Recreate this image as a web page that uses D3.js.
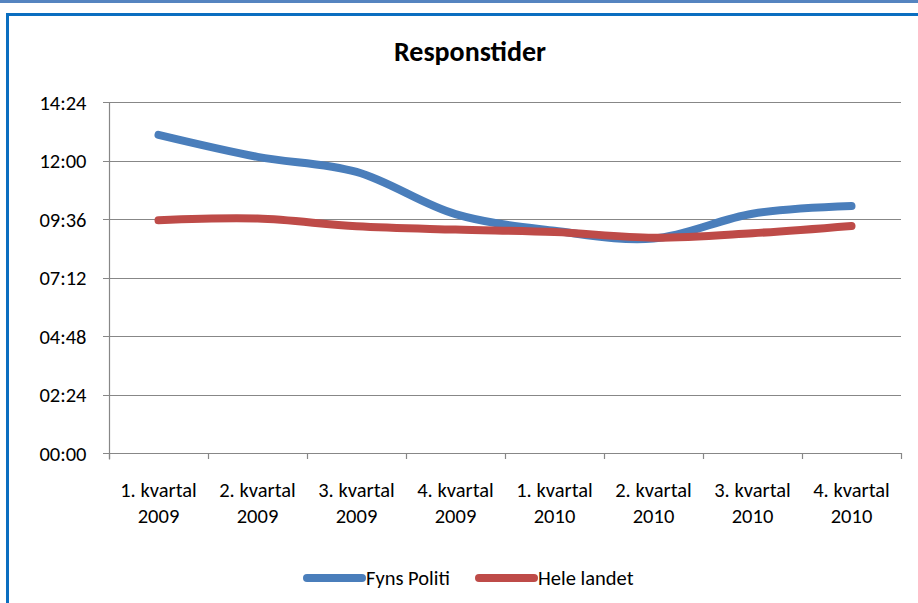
<!DOCTYPE html>
<html>
<head>
<meta charset="utf-8">
<script src="https://cdn.jsdelivr.net/npm/d3@7"></script>
<style>
  html, body { margin: 0; padding: 0; background: #fff; }
  svg { display: block; }
  text { font-family: Carlito, Lato, "Open Sans", sans-serif; fill: #000; }
</style>
</head>
<body>
<svg id="chart" width="918" height="603"></svg>
<script>
// quarters on the x axis (two text lines each)
const quarters = ['1. kvartal', '2. kvartal', '3. kvartal', '4. kvartal', '1. kvartal', '2. kvartal', '3. kvartal', '4. kvartal'];
const years = ['2009', '2009', '2009', '2009', '2010', '2010', '2010', '2010'];

// response times in seconds (mm:ss)
const fynsPoliti = [783, 729, 692, 588, 547, 528, 589, 608];
const heleLandet = [573, 577, 558, 550, 544, 530, 541, 559];

const yTicks = [0, 144, 288, 432, 576, 720, 864];
const seriesNames = ['Fyns Politi', 'Hele landet'];
const colors = ['#4a7ebb', '#be4b48'];

const svg = d3.select('#chart');
const fmt = (s) => d3.format('02')(Math.floor(s / 60)) + ':' + d3.format('02')(s % 60);
const fs = 20.5;

// frame
svg.append('rect').attr('x', 0).attr('y', 0).attr('width', 918).attr('height', 3).attr('fill', '#5584c0');
svg.append('rect')
    .attr('x', 7.5).attr('y', 14.5).attr('width', 940).attr('height', 620)
    .attr('fill', 'none').attr('stroke', '#0a6ec0').attr('stroke-width', 3);

svg.append('text')
    .attr('x', 470).attr('y', 61)
    .attr('text-anchor', 'middle')
    .attr('font-size', 28).attr('font-weight', 'bold')
    .text('Responstider');

const x = d3.scaleBand().domain(d3.range(quarters.length)).range([109, 901]);
const y = d3.scaleLinear().domain([0, 864]).range([453, 102]);

// gridlines
svg.append('g')
    .selectAll('line')
    .data(yTicks)
    .join('line')
    .attr('x1', 103).attr('x2', 901)
    .attr('y1', (d) => Math.round(y(d)) + 0.5).attr('y2', (d) => Math.round(y(d)) + 0.5)
    .attr('stroke', '#878787').attr('stroke-width', 1.2);

// y axis
const yAxis = svg.append('g')
    .attr('transform', 'translate(109.5,0.5)')
    .call(d3.axisLeft(y).tickValues(yTicks).tickFormat(fmt).tickSize(0).tickPadding(23));
yAxis.select('.domain').attr('stroke', '#878787').attr('stroke-width', 1.2).attr('d', 'M0,' + (y(864) - 0.5) + 'V' + (y(0) + 6));
yAxis.selectAll('text').attr('font-size', fs).attr('font-family', null);

// x axis tick marks at category boundaries
const bounds = d3.range(quarters.length + 1).map((i) => i < quarters.length ? x(i) : x.range()[1]);
svg.append('g')
    .selectAll('line')
    .data(bounds)
    .join('line')
    .attr('x1', (d) => Math.round(d) + 0.5).attr('x2', (d) => Math.round(d) + 0.5)
    .attr('y1', 453).attr('y2', 459)
    .attr('stroke', '#878787').attr('stroke-width', 1.2);

const xl = svg.append('g')
    .selectAll('text')
    .data(quarters)
    .join('text')
    .attr('x', (d, i) => x(i) + x.bandwidth() / 2)
    .attr('y', 497)
    .attr('text-anchor', 'middle')
    .attr('font-size', fs);
xl.append('tspan').text((d) => d);
xl.append('tspan').attr('x', (d, i) => x(i) + x.bandwidth() / 2).attr('dy', 26).text((d, i) => years[i]);

// lines
const line = d3.line()
    .x((d, i) => x(i) + x.bandwidth() / 2)
    .y((d) => y(d))
    .curve(d3.curveCatmullRom.alpha(0.5));

[fynsPoliti, heleLandet].forEach((s, k) => {
    svg.append('path')
        .datum(s)
        .attr('d', line)
        .attr('fill', 'none')
        .attr('stroke', colors[k])
        .attr('stroke-width', 8)
        .attr('stroke-linecap', 'round')
        .attr('stroke-linejoin', 'round');
});

// legend
const legendX = [307, 479];
seriesNames.forEach((name, k) => {
    svg.append('line')
        .attr('x1', legendX[k]).attr('x2', legendX[k] + 55)
        .attr('y1', 578).attr('y2', 578)
        .attr('stroke', colors[k]).attr('stroke-width', 8)
        .attr('stroke-linecap', 'round');
    svg.append('text')
        .attr('x', legendX[k] + 59).attr('y', 585)
        .attr('font-size', fs)
        .text(name);
});
</script>
</body>
</html>
